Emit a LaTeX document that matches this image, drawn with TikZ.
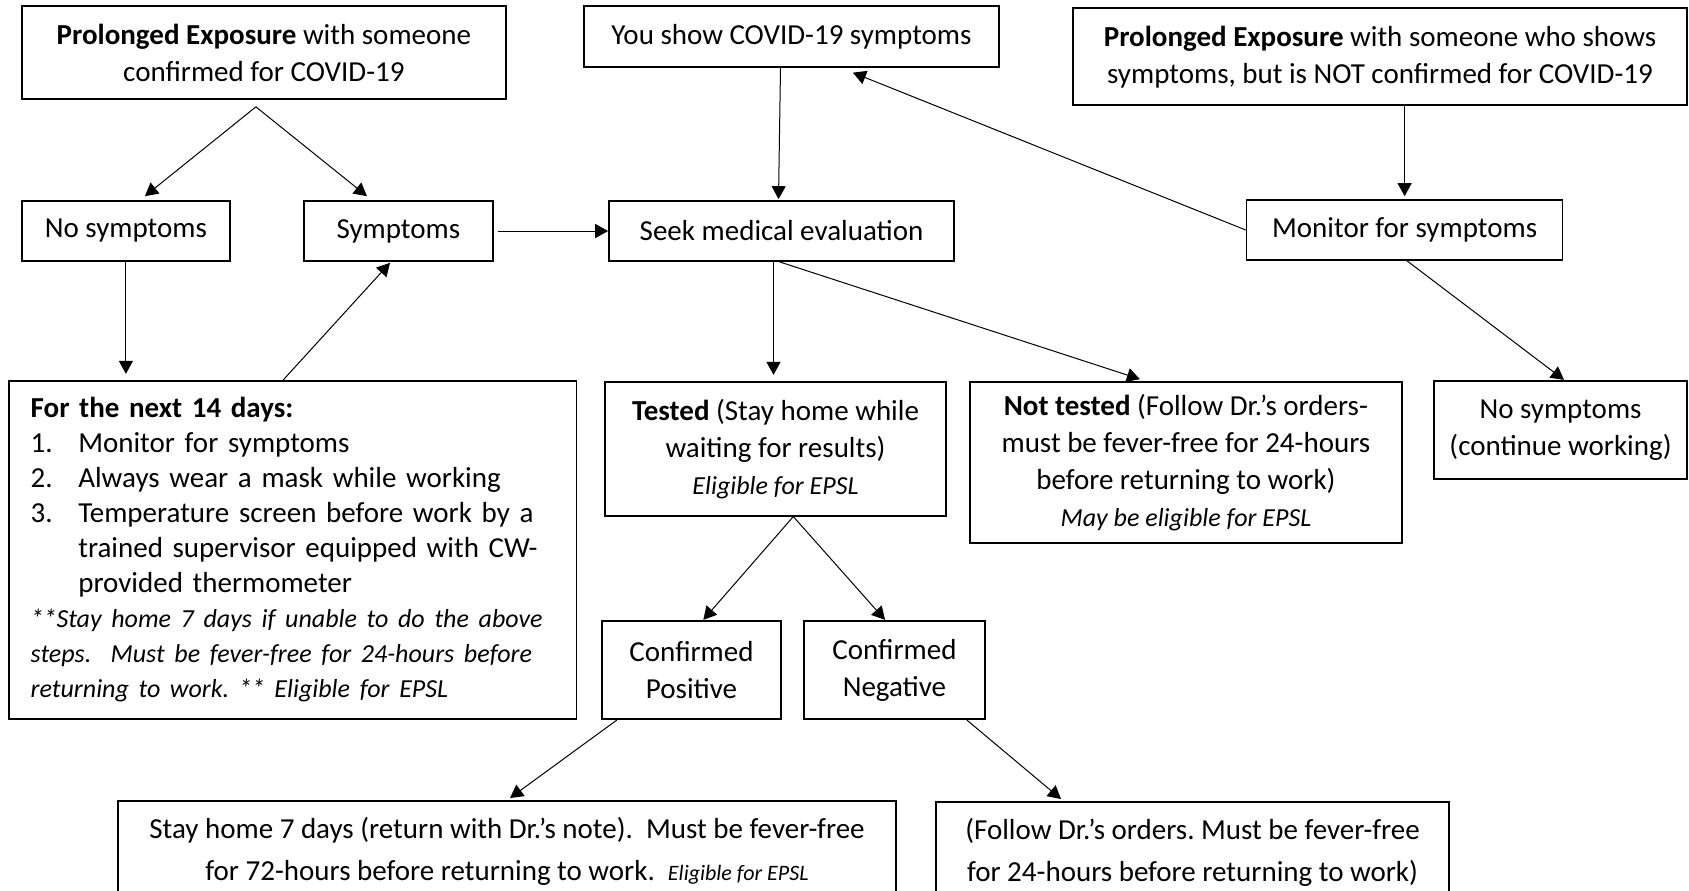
\documentclass[tikz,border=0pt]{standalone}
\usepackage{fontspec}
\setmainfont{Carlito}
\usetikzlibrary{arrows.meta,calc}
\newcommand\mainf{\fontsize{14.5pt}{18.5pt}\selectfont}
\newcommand\smit{\fontsize{13pt}{15pt}\selectfont\itshape}
\newcommand\tnit{\fontsize{11pt}{13pt}\selectfont\itshape}
\frenchspacing
\begin{document}
\begin{tikzpicture}[x=0.5pt,y=-0.5pt,
  box/.style={draw, line width=0.85pt, inner sep=0pt, align=center, font=\mainf},
  arr/.style={line width=0.5pt, -{Triangle[length=6.5pt,width=7pt]}}]
\useasboundingbox (0,0) rectangle (1689,890);
\clip (0,0) rectangle (1689,890);
% top row
\node[box, minimum width=242.2pt, minimum height=46.5pt] (pe1) at (263.9,52.5)
  {\textbf{Prolonged Exposure} with someone\\confirmed for COVID-19};
\node[box, minimum width=207.5pt, minimum height=30.4pt] (you) at (791.5,36.4)
  {You show COVID-19 symptoms};
\node[box, minimum width=307pt, minimum height=48.4pt] (pe2) at (1380,56.7)
  {\textbf{Prolonged Exposure} with someone who shows\\symptoms, but is NOT confirmed for COVID-19};
% second row
\node[box, minimum width=104.2pt, minimum height=30pt] (ns1) at (125.9,231) {No symptoms};
\node[box, minimum width=94.4pt, minimum height=30pt] (sym) at (398.4,231) {Symptoms};
\node[box, minimum width=172.5pt, minimum height=30pt] (seek) at (781.5,231) {Seek medical evaluation};
\node[box, minimum width=158pt, minimum height=30pt] (mon) at (1404.6,230) {Monitor for symptoms};
% third row
\node[box, align=left, text width=262.2pt, inner xsep=10.7pt, minimum height=169.2pt,
      font=\fontsize{14.5pt}{17.5pt}\selectfont] (n14) at (292.9,549.9)
  {\textbf{For the next 14 days:}\\
   \makebox[23.8pt][l]{1.}Monitor for symptoms\\
   \makebox[23.8pt][l]{2.}Always wear a mask while working\\
   \makebox[23.8pt][l]{3.}Temperature screen before work by a\\
   \hspace*{23.8pt}trained supervisor equipped with CW-\\
   \hspace*{23.8pt}provided thermometer\\
   {\smit **Stay home 7 days if unable to do the above}\\
   {\smit steps.\ \ Must be fever-free for 24-hours before}\\
   {\smit returning to work. ** Eligible for EPSL}};
\node[box, minimum width=170.2pt, minimum height=67pt] (tested) at (775.5,448.7)
  {\textbf{Tested} (Stay home while\\waiting for results)\\{\smit Eligible for EPSL}};
\node[box, minimum width=215.9pt, minimum height=80.8pt] (nt) at (1185.9,462.5)
  {\textbf{Not tested} (Follow Dr.’s orders-\\must be fever-free for 24-hours\\before returning to work)\\{\smit May be eligible for EPSL}};
\node[box, minimum width=126.5pt, minimum height=49.3pt] (nsr) at (1560.5,430)
  {No symptoms\\(continue working)};
\node[box, minimum width=89.5pt, minimum height=49.3pt] (cp) at (691.5,670) {Confirmed\\Positive};
\node[box, minimum width=90.7pt, minimum height=49.3pt] (cn) at (894.4,670) {Confirmed\\Negative};
% bottom row
\node[box, anchor=north, minimum width=389.3pt, inner ysep=8pt,
      font=\fontsize{14.5pt}{21pt}\selectfont] (stay) at (507,800)
  {Stay home 7 days (return with Dr.’s note).\ \ Must be fever-free\\
   for 72-hours before returning to work.\ \ {\tnit Eligible for EPSL}\\[20pt]~};
\node[box, anchor=north, minimum width=256.5pt, inner ysep=8pt,
      font=\fontsize{14.5pt}{21pt}\selectfont] (fol) at (1192.5,801)
  {(Follow Dr.’s orders. Must be fever-free\\for 24-hours before returning to work)\\[20pt]~};
% connectors
\coordinate (apex1) at ($(pe1.south)+(-8,7)$);
\draw[arr] (apex1) -- ($(ns1.north)+(19,-4)$);
\draw[arr] (apex1) -- ($(sym.north)+(-31.4,-4)$);
\draw[arr] ($(sym.east)+(4,0)$) -- (seek.west);
\draw[arr] ($(you.south)+(-11,0)$) -- ($(seek.north)+(-3,-1)$);
\draw[arr] (mon.west) -- ($(you.south)+(61.4,5)$);
\draw[arr] (pe2.south -| mon.north) -- ($(mon.north)+(0,-3)$);
\draw[arr] (ns1.south) -- ($(ns1.south |- n14.north)+(0,-6)$);
\draw[arr] ($(n14.north)+(-9.6,0)$) -- ($(sym.south)+(-8.4,1)$);
\draw[arr] ($(seek.south)+(-8,0)$) -- ($(seek.south |- tested.north)+(-8,-6)$);
\draw[arr] ($(seek.south)+(-2,0)$) -- ($(nt.north)+(-46,-1.7)$);
\draw[arr] ($(mon.south)+(2.4,0)$) -- ($(nsr.north)+(3.5,0)$);
\coordinate (apex2) at ($(tested.south)+(17.8,0)$);
\draw[arr] (apex2) -- ($(cp.north)+(11.8,0)$);
\draw[arr] (apex2) -- ($(cn.north)+(-9.4,0)$);
\draw[arr] ($(cp.south)+(-74.8,0)$) -- ($(stay.north)+(3,-2)$);
\draw[arr] ($(cn.south)+(72.6,0)$) -- ($(fol.north)+(-131.5,-2)$);
\end{tikzpicture}
\end{document}
